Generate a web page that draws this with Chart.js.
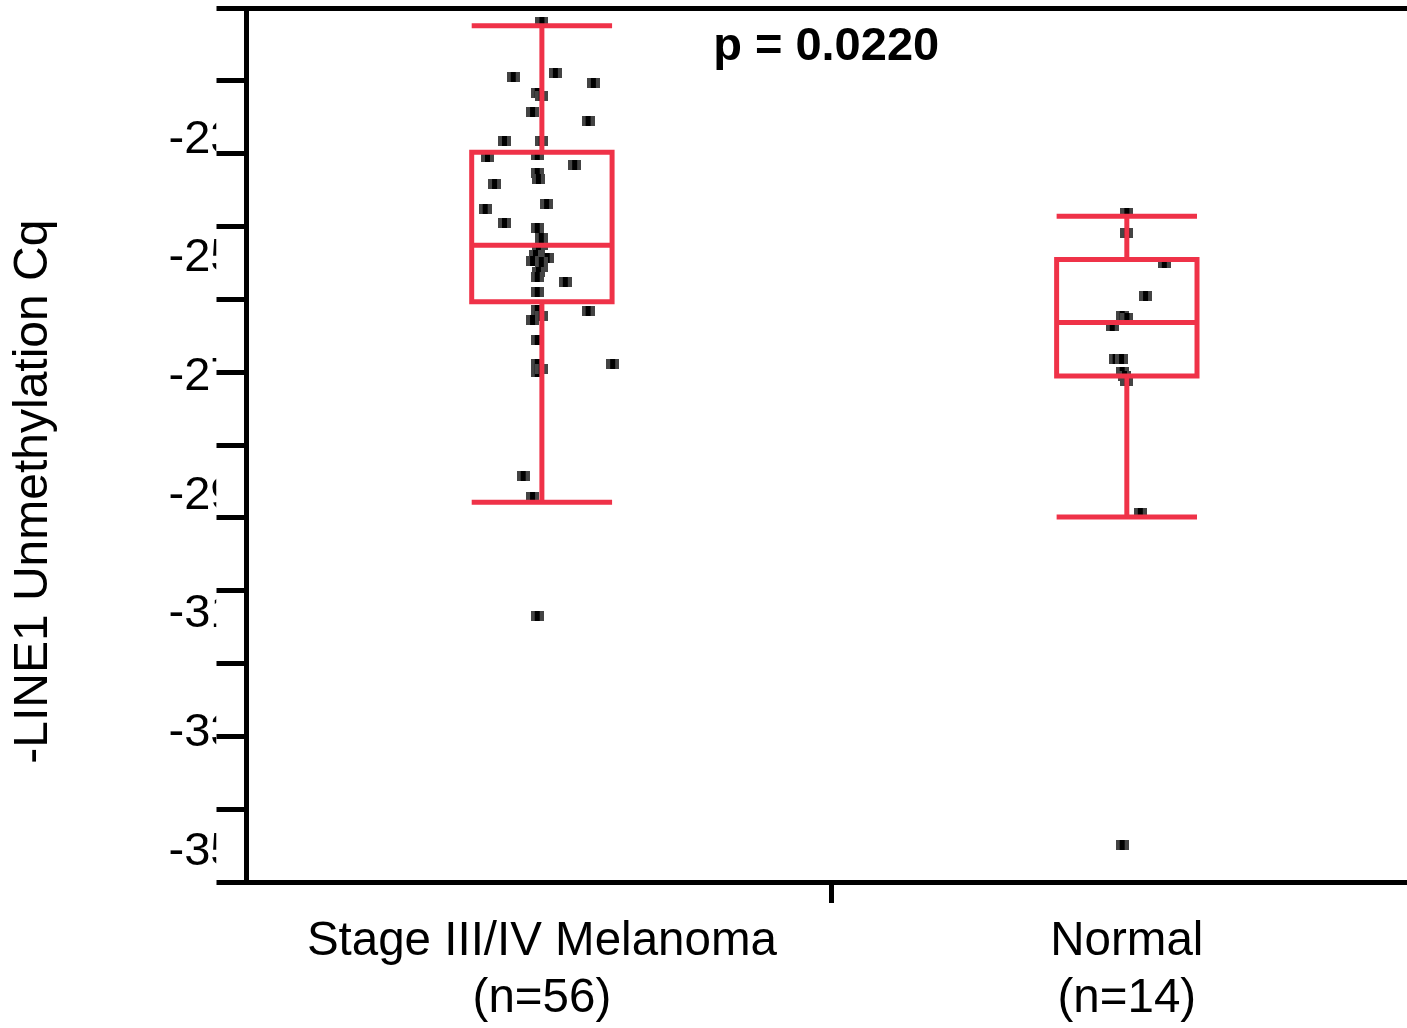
<!DOCTYPE html>
<html>
<head>
<meta charset="utf-8">
<script src="https://cdn.jsdelivr.net/npm/chart.js@4.4.1/dist/chart.umd.min.js"></script>
<style>
  html, body { margin: 0; padding: 0; background: #fff; overflow: hidden; }
  canvas { display: block; }
</style>
</head>
<body>
<canvas id="chart" width="1407" height="1028"></canvas>
<script>
// groups
const groupLabels = [['Stage III/IV Melanoma', '(n=56)'], ['Normal', '(n=14)']];
const groupX = [1, 2];
const dividerX = 1.495;

// box stats
const whiskerHigh = [-21.08, -24.29];
const upperQuart = [-23.21, -25.02];
const medians = [-24.78, -26.08];
const lowerQuart = [-25.73, -26.98];
const whiskerLow = [-29.11, -29.36];

// jittered samples [x, y]
const melanomaPts = [
  [1.000, -21.01], [0.951, -21.95], [1.023, -21.87], [1.088, -22.04], [0.992, -22.21],
  [0.999, -22.27], [0.984, -22.53], [1.079, -22.69], [0.936, -23.02], [0.999, -23.02],
  [0.907, -23.29], [0.992, -23.25], [1.056, -23.42], [0.992, -23.56], [0.994, -23.67],
  [0.919, -23.74], [0.903, -24.16], [1.008, -24.08], [0.936, -24.41], [0.992, -24.48],
  [0.999, -24.65], [0.999, -24.77], [0.994, -24.87], [0.989, -24.94], [0.984, -25.04],
  [1.009, -24.99], [0.999, -25.06], [0.999, -25.14], [0.994, -25.23], [0.992, -25.31],
  [1.040, -25.39], [0.992, -25.56], [0.992, -25.87], [0.984, -26.04], [0.999, -25.97],
  [1.079, -25.88], [0.992, -26.37], [0.992, -26.78], [0.992, -26.91], [0.999, -26.86],
  [1.121, -26.78], [0.968, -28.67], [0.984, -29.02], [0.992, -31.03]
];
const normalPts = [
  [2.000, -24.23], [2.000, -24.57], [2.064, -25.07], [2.032, -25.63], [1.992, -25.97],
  [2.000, -26.00], [1.975, -26.14], [1.980, -26.69], [1.991, -26.69], [1.992, -26.91],
  [1.996, -26.98], [2.000, -27.06], [2.023, -29.29], [1.992, -34.89]
];

const yLabelTicks = [-23, -25, -27, -29, -31, -33, -35];
const pValueText = 'p = 0.0220';
const pValueAt = [1.486, -21.43];

const Y_MIN = -35.51, Y_MAX = -20.78;
const X_MIN = 0.495, X_MAX = 2.479;
const BOX_HALF = 0.12;
const RED = '#EF3248';
const FONT = '"Liberation Sans", Arial, sans-serif';

function boxPath(i) {
  const x = groupX[i], l = x - BOX_HALF, r = x + BOX_HALF;
  const gap = {x: x, y: null};
  return [
    {x: l, y: whiskerHigh[i]}, {x: r, y: whiskerHigh[i]}, gap,
    {x: x, y: whiskerHigh[i]}, {x: x, y: upperQuart[i]},
    {x: r, y: upperQuart[i]}, {x: r, y: lowerQuart[i]},
    {x: l, y: lowerQuart[i]}, {x: l, y: upperQuart[i]}, {x: x, y: upperQuart[i]}, gap,
    {x: l, y: medians[i]}, {x: r, y: medians[i]}, gap,
    {x: x, y: lowerQuart[i]}, {x: x, y: whiskerLow[i]}, gap,
    {x: l, y: whiskerLow[i]}, {x: r, y: whiskerLow[i]}
  ];
}

function makeDot() {
  const c = document.createElement('canvas');
  c.width = 13; c.height = 10;
  const g = c.getContext('2d');
  g.fillStyle = '#444';
  g.fillRect(0, 0, 13, 10);
  g.fillStyle = '#000';
  g.fillRect(4, 0, 5, 10);
  return c;
}
const dot = makeDot();

const boxDataset = i => ({
  type: 'line',
  data: boxPath(i),
  showLine: true,
  spanGaps: false,
  borderColor: RED,
  borderWidth: 5,
  borderJoinStyle: 'miter',
  pointRadius: 0,
  fill: false,
  tension: 0,
  order: 0
});

const dotDataset = pts => ({
  type: 'scatter',
  data: pts.map(p => ({x: p[0], y: p[1]})),
  pointStyle: dot,
  pointRadius: 5,
  order: 1
});

const overlay = {
  id: 'overlay',
  beforeDatasetsDraw(chart) {
    // clip the value labels where the tick marks start
    const ctx = chart.ctx, yt = chart.scales.yt;
    ctx.save();
    ctx.fillStyle = '#fff';
    ctx.fillRect(yt.left, 0, chart.chartArea.left - yt.left, chart.chartArea.bottom);
    ctx.restore();
  },
  afterDatasetsDraw(chart) {
    const ctx = chart.ctx;
    ctx.save();
    ctx.font = 'bold 47px ' + FONT;
    ctx.fillStyle = '#000';
    ctx.textAlign = 'center';
    ctx.textBaseline = 'middle';
    ctx.fillText(pValueText, chart.scales.x.getPixelForValue(pValueAt[0]),
      chart.scales.y.getPixelForValue(pValueAt[1]));
    ctx.restore();
  }
};

new Chart(document.getElementById('chart').getContext('2d'), {
  type: 'scatter',
  data: {
    datasets: [boxDataset(0), boxDataset(1), dotDataset(melanomaPts), dotDataset(normalPts)]
  },
  options: {
    responsive: false,
    animation: false,
    devicePixelRatio: 1,
    layout: { autoPadding: false, padding: { top: 8, right: 0, bottom: 0, left: 0 } },
    plugins: { legend: { display: false }, tooltip: { enabled: false } },
    scales: {
      x: {
        type: 'linear',
        position: 'bottom',
        min: X_MIN,
        max: X_MAX,
        afterBuildTicks: s => {
          s.ticks = [groupX[0], dividerX, groupX[1]].map(v => ({ value: v }));
        },
        ticks: {
          autoSkip: false,
          maxRotation: 0,
          padding: 10,
          color: '#000',
          font: { family: FONT, size: 47.5, lineHeight: 1.21 },
          callback: v => {
            const i = groupX.indexOf(v);
            return i >= 0 ? groupLabels[i] : '';
          }
        },
        grid: {
          drawOnChartArea: false,
          drawTicks: true,
          tickLength: 21,
          lineWidth: 5,
          tickColor: c => (c.tick && c.tick.value === dividerX) ? '#000' : 'rgba(0,0,0,0)'
        },
        border: { display: true, color: '#000', width: 5 },
        afterFit: s => { s.height = 146; }
      },
      xt: {
        type: 'linear',
        position: 'top',
        min: X_MIN,
        max: X_MAX,
        ticks: { display: false },
        grid: { drawOnChartArea: false, drawTicks: false },
        border: { display: true, color: '#000', width: 5 },
        afterFit: s => { s.height = 0; }
      },
      y: {
        type: 'linear',
        position: 'left',
        weight: 1,
        min: Y_MIN,
        max: Y_MAX,
        afterBuildTicks: s => {
          s.ticks = yLabelTicks.map(v => ({ value: v }));
        },
        ticks: {
          padding: -28,
          color: '#000',
          font: { family: FONT, size: 47 },
          callback: v => String(v)
        },
        grid: { display: false },
        border: { display: false },
        title: {
          display: true,
          text: '-LINE1 Unmethylation Cq' + '\u00a0'.repeat(7),
          color: '#000',
          font: { family: FONT, size: 48, lineHeight: 1.2 },
          padding: { top: 5, bottom: 0 }
        },
        afterFit: s => { s.width = 216.5; }
      },
      yt: {
        type: 'linear',
        position: 'left',
        weight: 0,
        min: 0,
        max: 12,
        ticks: { display: false, stepSize: 1 },
        grid: {
          drawOnChartArea: false,
          drawTicks: true,
          tickLength: 30,
          lineWidth: 5,
          tickColor: '#000',
          z: 1
        },
        border: { display: true, color: '#000', width: 5, z: 1 },
        afterFit: s => { s.width = 30; }
      }
    }
  },
  plugins: [overlay]
});
</script>
</body>
</html>
